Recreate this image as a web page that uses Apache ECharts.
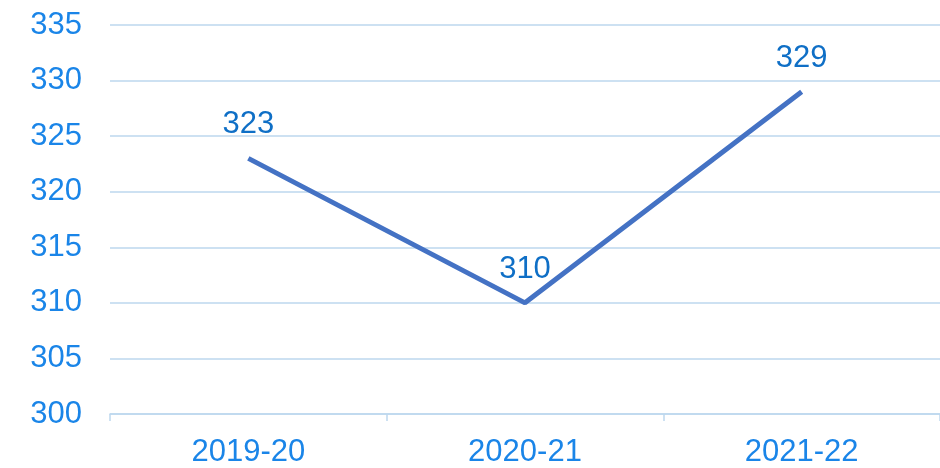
<!DOCTYPE html>
<html><head><meta charset="utf-8">
<script src="https://cdn.jsdelivr.net/npm/echarts@6/dist/echarts.min.js"></script>
<style>html,body{margin:0;padding:0;background:#fff}#c{width:940px;height:468px}</style>
</head><body><div id="c"></div>
<script>
const categories = ['2019-20', '2020-21', '2021-22'];
const values = [323, 310, 329];
const chart = echarts.init(document.getElementById('c'));
chart.setOption({
  animation: false,
  grid: { left: 110, right: 0, top: 25, bottom: 53 },
  xAxis: {
    type: 'category', data: categories, boundaryGap: true,
    axisLine: { lineStyle: { color: '#BDD7EE', width: 1.5 } },
    axisTick: { show: true, length: 7, lineStyle: { color: '#BDD7EE', width: 1.5 } },
    axisLabel: { color: '#1A85E8', fontSize: 31, fontFamily: 'Liberation Sans', margin: 23 }
  },
  yAxis: {
    type: 'value', min: 300, max: 335, interval: 5,
    axisLine: { show: false }, axisTick: { show: false },
    splitLine: { lineStyle: { color: '#BDD7EE', width: 1.5 } },
    axisLabel: { color: '#1A85E8', fontSize: 31, fontFamily: 'Liberation Sans', margin: 28 }
  },
  series: [{
    type: 'line', data: values, symbol: 'circle', symbolSize: 0, showSymbol: true,
    lineStyle: { color: '#4472C4', width: 5 },
    itemStyle: { color: '#4472C4' },
    label: { show: true, position: 'top', distance: 18, color: '#0F6FC6', fontSize: 31, fontFamily: 'Liberation Sans' }
  }]
});
</script></body></html>
